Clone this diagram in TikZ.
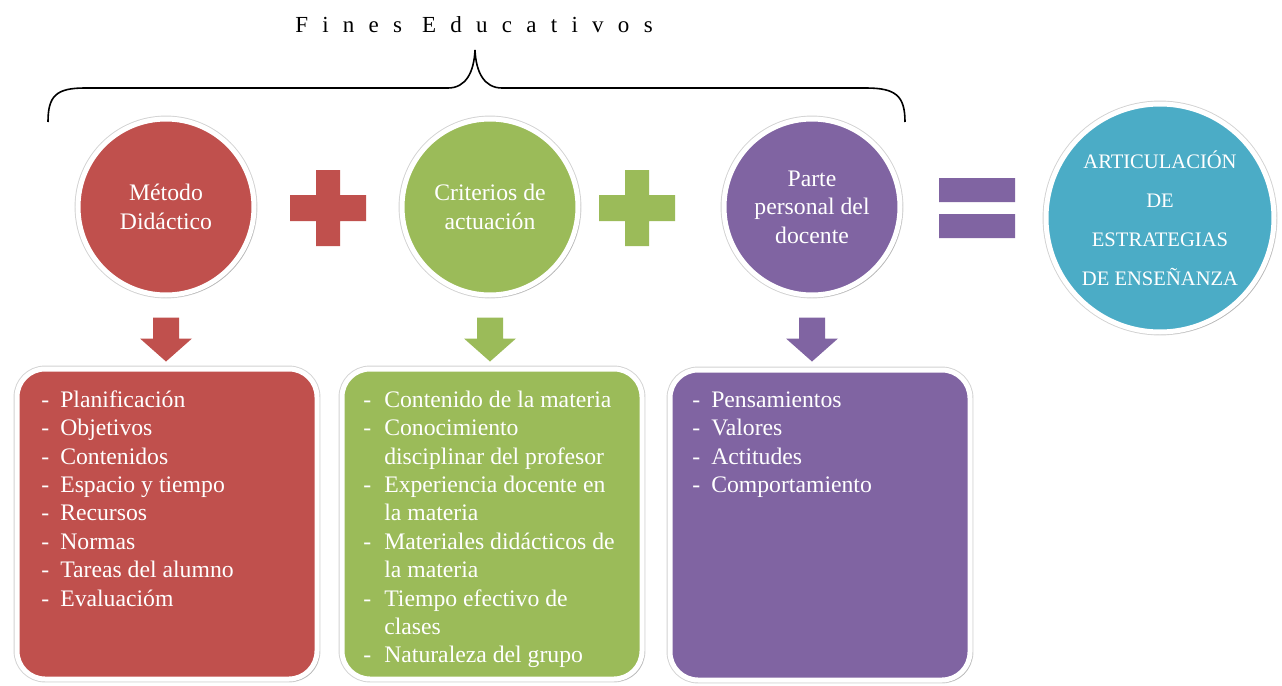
\documentclass[tikz,border=0pt]{standalone}
\usepackage{fontspec}
\setmainfont{Liberation Serif}
\newfontfamily\espaciada[LetterSpace=62]{Liberation Serif}
\usetikzlibrary{shadows}

\definecolor{rojo}{HTML}{C0504D}
\definecolor{verde}{HTML}{9BBB59}
\definecolor{morado}{HTML}{8064A2}
\definecolor{azul}{HTML}{4BACC6}

\tikzset{
  sombra/.style={drop shadow={opacity=0.35, shadow xshift=1.2pt, shadow yshift=-1.2pt}},
  borde/.style={preaction={draw=gray!35, line width=3.4pt}, draw=white, line width=2.5pt},
  plussign/.pic={\path[pic actions] (-38,-13) -- (-12,-13) -- (-12,-38) -- (12,-38) -- (12,-13) -- (38,-13)
      -- (38,13) -- (12,13) -- (12,38) -- (-12,38) -- (-12,13) -- (-38,13) -- cycle;},
  igualsign/.pic={\path[pic actions] (-38,-30) rectangle (38,-6) (-38,6) rectangle (38,30);},
  flecha/.pic={\path[pic actions] (-13,0) -- (13,0) -- (13,21) -- (26,21) -- (0,44) -- (-26,21) -- (-13,21) -- cycle;}
}

\begin{document}
\begin{tikzpicture}[x=0.5pt, y=-0.5pt,
  font=\fontsize{11.85pt}{14.2pt}\selectfont,
  circulo/.style={circle, borde, minimum size=88pt, inner sep=0pt,
    align=center, text=white, sombra},
  caja/.style={rectangle, rounded corners=14pt, borde,
    minimum width=150pt, minimum height=155pt, sombra},
  lista/.style={anchor=north west, inner sep=0pt, text=white}]
\useasboundingbox[fill=white] (0,0) rectangle (1282,686);

% titulo y llave
\node (fines) at (474,25) {\fontsize{11.5pt}{14pt}\espaciada Fines Educativos};
\draw[line width=0.8pt] (48,122) .. controls (48,96) and (56,88) .. (85,88) -- (448,88)
  .. controls (466,88) and (474,72) .. (475,50) .. controls (476,72) and (484,88) .. (502,88)
  -- (866,88) .. controls (896,88) and (905,96) .. (905,122);

% circulos
\node[circulo, fill=rojo] (metodo) at (166,207) {Método\\Didáctico};
\node[circulo, fill=verde] (criterios) at (490,207) {Criterios de\\actuación};
\node[circulo, fill=morado] (parte) at (812,207) {Parte\\personal del\\docente};
\node[circulo, fill=azul, minimum size=114pt, font=\fontsize{10.3pt}{19.5pt}\selectfont]
  (articulacion) at (1160,218) {ARTICULACIÓN\\DE\\ESTRATEGIAS\\DE ENSEÑANZA};

% signos
\pic[fill=rojo, sombra] at (328,208) {plussign};
\pic[fill=verde, sombra] at (637,208) {plussign};
\pic[fill=morado, sombra] at (977,208) {igualsign};

% flechas
\pic[fill=rojo, sombra] at ([yshift=-10pt]metodo.south) {flecha};
\pic[fill=verde, sombra] at ([yshift=-10pt]criterios.south) {flecha};
\pic[fill=morado, sombra] at ([yshift=-10pt]parte.south) {flecha};

% cajas
\node[caja, fill=rojo] (cmetodo) at (167,524) {};
\node[caja, fill=verde] (ccriterios) at (492,524) {};
\node[caja, fill=morado] (cparte) at (820,525) {};

\node[lista] (lmetodo) at (41,387) {\begin{tabular}{@{}l@{\hspace{5.5pt}}l@{}}
- & Planificación\\
- & Objetivos\\
- & Contenidos\\
- & Espacio y tiempo\\
- & Recursos\\
- & Normas\\
- & Tareas del alumno\\
- & Evaluacióm
\end{tabular}};
\node[lista] (lcriterios) at (363,387) {\begin{tabular}{@{}l@{\hspace{6.5pt}}l@{}}
- & Contenido de la materia\\
- & Conocimiento\\
  & disciplinar del profesor\\
- & Experiencia docente en\\
  & la materia\\
- & Materiales didácticos de\\
  & la materia\\
- & Tiempo efectivo de\\
  & clases\\
- & Naturaleza del grupo
\end{tabular}};
\node[lista] (lparte) at (692,387) {\begin{tabular}{@{}l@{\hspace{5.5pt}}l@{}}
- & Pensamientos\\
- & Valores\\
- & Actitudes\\
- & Comportamiento
\end{tabular}};
\end{tikzpicture}
\end{document}
